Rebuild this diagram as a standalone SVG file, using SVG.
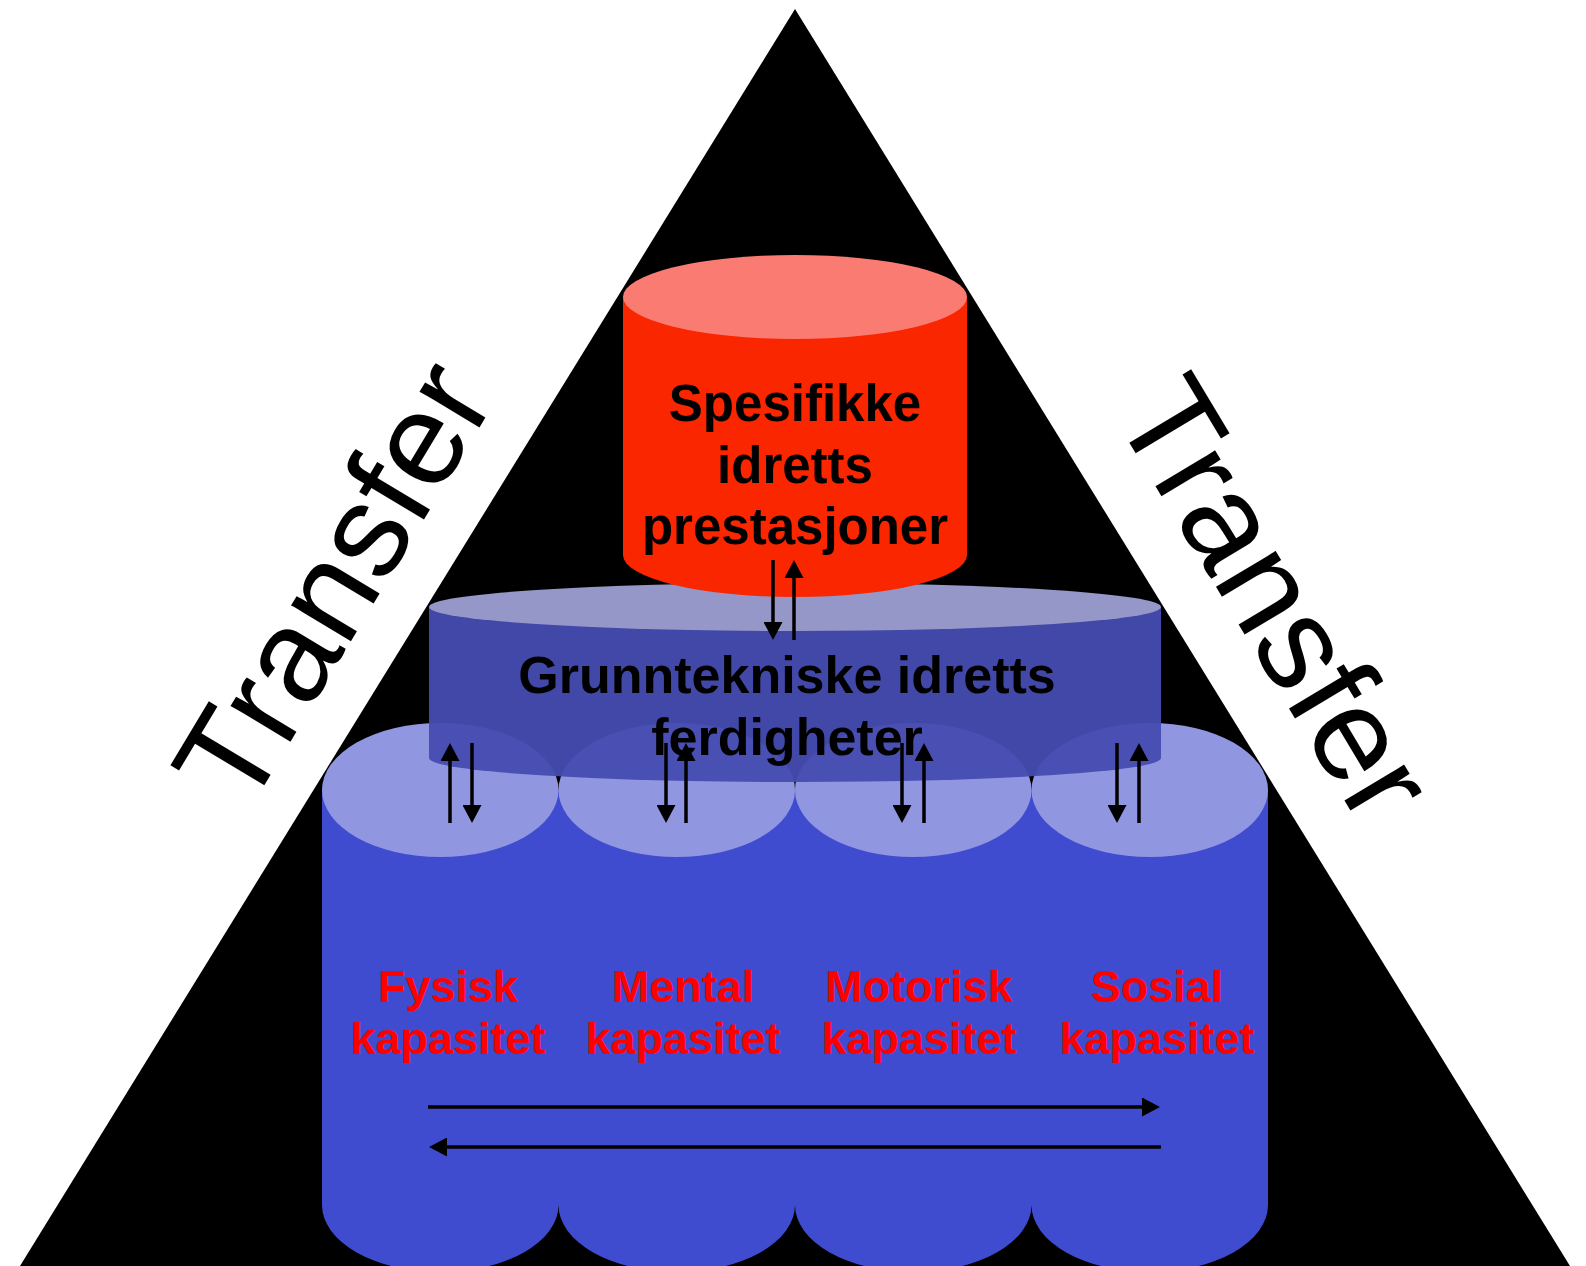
<svg xmlns="http://www.w3.org/2000/svg" width="1586" height="1266" viewBox="0 0 1586 1266">
  <style>
    .lbl { font-family: "Liberation Sans", Arial, sans-serif; font-weight: bold; text-anchor: middle; }
    .blk { fill: #000000; font-size: 51px; }
    .mid { font-size: 52px; }
    .red { fill: #FF0000; font-size: 45px; }
    .tr { font-family: "Liberation Sans", Arial, sans-serif; font-size: 132px; fill: #000000; text-anchor: middle; }
    .cylBody { fill: #404CD0; }
    .cylTop { fill: #9096E0; }
    .ar { stroke: #000000; stroke-width: 3.5; fill: none; marker-end: url(#ah); }
  </style>
  <defs>
    <marker id="ah" viewBox="0 0 18 19" refX="0" refY="9.5" markerWidth="18" markerHeight="19" orient="auto" markerUnits="userSpaceOnUse">
      <path d="M0,0 L18,9.5 L0,19 Z" fill="#000000"/>
    </marker>
  </defs>
  <rect width="1586" height="1266" fill="#FFFFFF"/>

  <g id="pyramid">
    <polygon points="795,9 20,1266 1570,1266" fill="#000000"/>
  </g>

  <g id="transfer-left">
    <text class="tr" transform="translate(372,606) rotate(-59)">Transfer</text>
  </g>
  <g id="transfer-right">
    <text class="tr" transform="translate(1237,622) rotate(59)">Transfer</text>
  </g>

  <g id="base-cylinders">
    <path class="cylBody" d="M322,790 L322,1205 A118.25,67 0 0 0 558.5,1205 A118.25,67 0 0 0 795,1205 A118.25,67 0 0 0 1031.5,1205 A118.25,67 0 0 0 1268,1205 L1268,790 Z"/>
    <ellipse id="cyl-fysisk" class="cylTop" cx="440.25" cy="790" rx="118.25" ry="67"/>
    <ellipse id="cyl-mental" class="cylTop" cx="676.75" cy="790" rx="118.25" ry="67"/>
    <ellipse id="cyl-motorisk" class="cylTop" cx="913.25" cy="790" rx="118.25" ry="67"/>
    <ellipse id="cyl-sosial" class="cylTop" cx="1149.75" cy="790" rx="118.25" ry="67"/>
  </g>

  <g id="middle-cylinder" opacity="0.95">
    <path d="M429,607 L429,758 A366,24 0 0 0 1161,758 L1161,607 Z" fill="#464CB1"/>
    <ellipse cx="795" cy="607" rx="366" ry="24" fill="#9CA0D2"/>
  </g>

  <g id="top-cylinder">
    <path d="M623,297 L623,555 A172,42 0 0 0 967,555 L967,297 Z" fill="#F92600"/>
    <ellipse cx="795" cy="297" rx="172" ry="42" fill="#FA7B72"/>
    <text class="lbl blk" x="795" y="421">Spesifikke</text>
    <text class="lbl blk" x="795" y="483">idretts</text>
    <text class="lbl blk" x="795" y="544">prestasjoner</text>
  </g>

  <g id="middle-label">
    <text class="lbl blk mid" x="787" y="693">Grunntekniske idretts</text>
    <text class="lbl blk mid" x="787" y="755">ferdigheter</text>
  </g>

  <g id="base-labels">
    <text class="lbl red" x="448" y="1002">Fysisk</text>
    <text class="lbl red" x="448" y="1054">kapasitet</text>
    <text class="lbl red" x="683" y="1002">Mental</text>
    <text class="lbl red" x="683" y="1054">kapasitet</text>
    <text class="lbl red" x="919" y="1002">Motorisk</text>
    <text class="lbl red" x="919" y="1054">kapasitet</text>
    <text class="lbl red" x="1157" y="1002">Sosial</text>
    <text class="lbl red" x="1157" y="1054">kapasitet</text>
  </g>

  <g id="connectors">
    <line class="ar" x1="773" y1="560" x2="773" y2="622"/>
    <line class="ar" x1="794" y1="640" x2="794" y2="578"/>

    <line class="ar" x1="450" y1="823" x2="450" y2="761"/>
    <line class="ar" x1="472" y1="743" x2="472" y2="805"/>

    <line class="ar" x1="666" y1="743" x2="666" y2="805"/>
    <line class="ar" x1="686" y1="823" x2="686" y2="761"/>

    <line class="ar" x1="902" y1="743" x2="902" y2="805"/>
    <line class="ar" x1="924" y1="823" x2="924" y2="761"/>

    <line class="ar" x1="1117" y1="743" x2="1117" y2="805"/>
    <line class="ar" x1="1139" y1="823" x2="1139" y2="761"/>

    <line class="ar" x1="428" y1="1107" x2="1142" y2="1107"/>
    <line class="ar" x1="1161" y1="1147" x2="447" y2="1147"/>
  </g>
</svg>
